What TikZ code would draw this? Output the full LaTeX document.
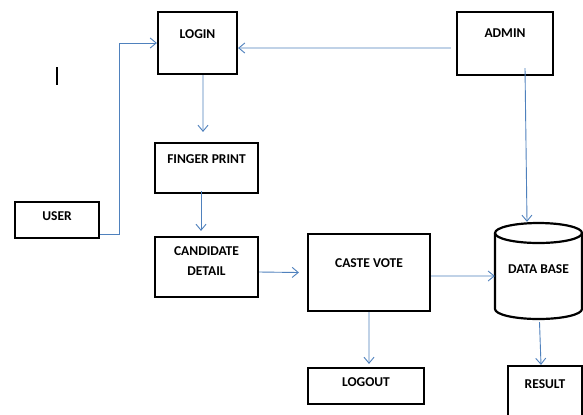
\documentclass[tikz,border=0pt]{standalone}
\usepackage{fontspec}
\setmainfont{Carlito}
\usetikzlibrary{arrows.meta}
\definecolor{conn}{RGB}{79,129,189}
\begin{document}
\begin{tikzpicture}[x=1bp,y=-1bp,
  box/.style={draw, line width=2.2bp, inner sep=0pt},
  lbl/.style={anchor=center, font=\fontsize{13.5bp}{20bp}\selectfont\bfseries, align=center, inner sep=0pt},
  arr/.style={draw=conn, line width=0.9bp, -{Straight Barb[length=6bp,width=10bp]}}]
\useasboundingbox[fill=white] (0,0) rectangle (583,414);
% boxes
\node[box, minimum width=79bp, minimum height=62bp, label={[lbl, yshift=-23bp]north:LOGIN}] (login) at (197.5,43) {};
\node[box, minimum width=96bp, minimum height=63bp, label={[lbl, yshift=-22bp]north:ADMIN}] (admin) at (505,43.5) {};
\node[box, minimum width=103bp, minimum height=50bp, label={[lbl, yshift=-17bp]north:FINGER PRINT}] (finger) at (206.5,168) {};
\node[box, minimum width=84bp, minimum height=36bp, label={[lbl, yshift=-15bp]north:USER}] (user) at (57,220) {};
\node[box, minimum width=103bp, minimum height=60bp, label={[lbl, yshift=-25bp]north:CANDIDATE\\DETAIL}] (cand) at (206.5,267) {};
\node[box, minimum width=122bp, minimum height=77bp, label={[lbl, yshift=-30bp]north:CASTE VOTE}] (caste) at (369,272.5) {};
% data base cylinder
\node[inner sep=0pt, minimum width=87bp, minimum height=96bp, label={[lbl, yshift=-46bp]north:DATA BASE}] (db) at (538.5,271) {};
\draw[line width=2.2bp] (538.5,233) ellipse [x radius=43.5, y radius=10];
\draw[line width=2.2bp] (495,233) -- (495,309) arc[start angle=180, end angle=0, x radius=43.5, y radius=10] -- (582,233);
\node[box, minimum width=116bp, minimum height=36bp, label={[lbl, yshift=-15bp]north:LOGOUT}] (logout) at (366,386) {};
\node[box, minimum width=74bp, minimum height=64bp, label={[lbl, yshift=-19bp]north:RESULT}] (result) at (545,398) {};
% text cursor mark
\draw[line width=1.6bp] (57,67) -- (57,85);
% connectors
\draw[arr] ([yshift=-14bp]user.east) -- ++(19,0) |- (login.west);
\draw[arr] ([xshift=-5bp,yshift=-4.5bp]admin.west) -- ([yshift=-5bp]login.east);
\draw[arr] ([xshift=20bp,yshift=8bp]admin.south) -- ([xshift=-11.5bp,yshift=1bp]db.north);
\draw[arr] ([xshift=5.5bp]login.south) -- ([xshift=-3.5bp,yshift=10bp]finger.north);
\draw[arr] ([xshift=-5.5bp,yshift=3bp]finger.south) -- ([xshift=-5.5bp,yshift=5bp]cand.north);
\draw[arr] ([yshift=-5bp]cand.east) -- ([xshift=-8bp]caste.west);
\draw[arr] ([yshift=-3.5bp]caste.east) -- ([yshift=-5bp]db.west);
\draw[arr] (caste.south) -- ([xshift=3bp,yshift=3bp]logout.north);
\draw[arr] ([xshift=1bp,yshift=-3bp]db.south) -- ([xshift=-4bp]result.north);
\end{tikzpicture}
\end{document}
